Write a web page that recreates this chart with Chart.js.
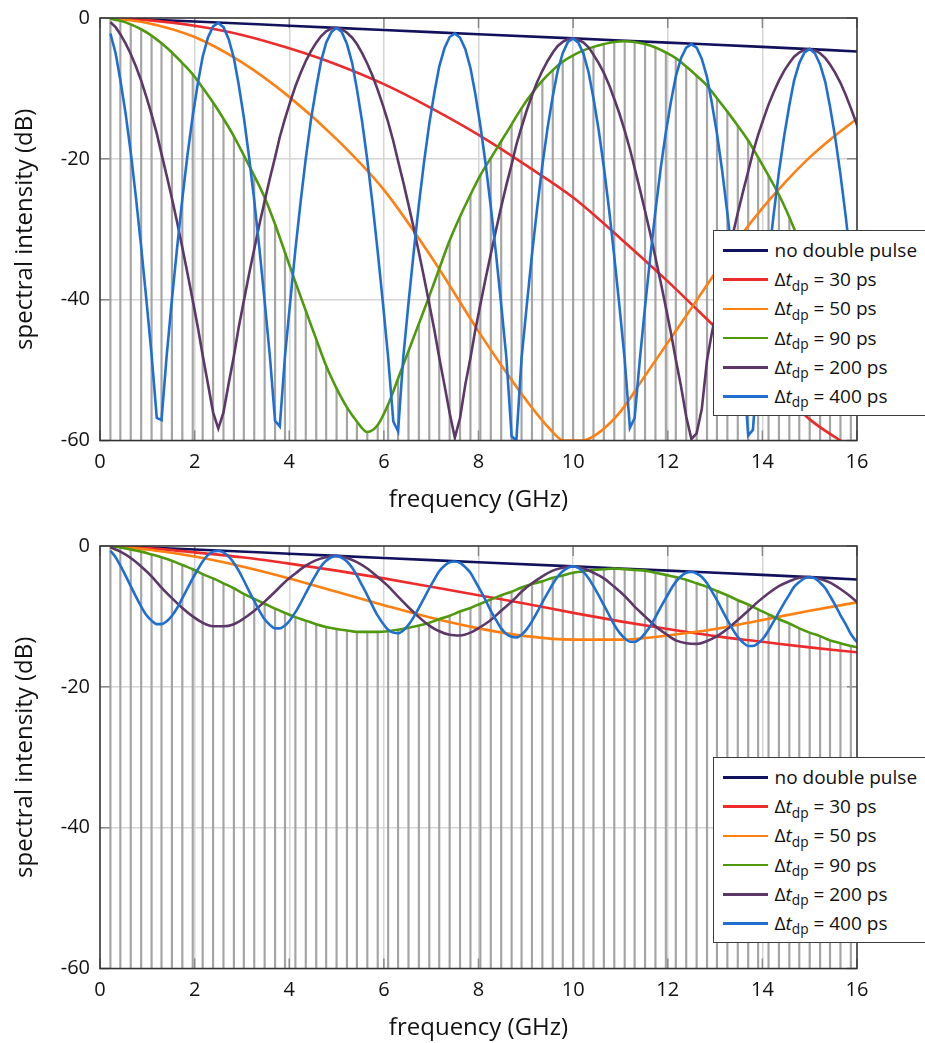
<!DOCTYPE html>
<html>
<head>
<meta charset="utf-8">
<title>Double pulse spectra</title>
<script src="https://cdn.jsdelivr.net/npm/chart.js@4.4.0/dist/chart.umd.min.js"></script>
<style>
  body { margin: 0; width: 925px; height: 1043px; overflow: hidden; background: #fff; font-family: 'Open Sans', sans-serif; }
  .panel { position: absolute; left: 0; width: 925px; height: 528px; }
  .legend { position: absolute; left: 713px; width: 240px; box-sizing: border-box; border: 1.5px solid #3c3c3c;
            background: #fff; padding: 5px 0 4px 0; font-size: 19px; color: #111; }
  .legend .row { height: 29.2px; display: flex; align-items: center; white-space: nowrap; line-height: 1; }
  .legend .swatch { display: inline-block; width: 45px; height: 2.6px; margin-left: 8.5px; margin-right: 7px; }
  .legend sub { font-size: 0.72em; position: relative; top: 0.32em; vertical-align: baseline; }
</style>
</head>
<body>
<div class="panel" style="top:-4.5px"><canvas id="topChart" width="925" height="528"></canvas></div>
<div class="panel" style="top:523.5px"><canvas id="bottomChart" width="925" height="528"></canvas></div>
<div class="legend" id="legendTop" style="top:230px"></div>
<div class="legend" id="legendBottom" style="top:757px"></div>

<script>
// sample frequencies of the spectra (GHz)
const freqFine = [
  0.22, 0.33, 0.43, 0.54, 0.65, 0.76, 0.87, 0.98, 1.09, 1.20, 1.30, 1.41, 1.52, 1.63, 1.74, 1.85, 1.96, 2.07, 2.17, 2.28, 2.39,
  2.50, 2.61, 2.72, 2.83, 2.93, 3.04, 3.15, 3.26, 3.37, 3.48, 3.59, 3.70, 3.80, 3.91, 4.02, 4.13, 4.24, 4.35, 4.46, 4.57, 4.67, 4.78, 4.89,
  5.00, 5.11, 5.22, 5.33, 5.43, 5.54, 5.65, 5.76, 5.87, 5.98, 6.09, 6.20, 6.30, 6.41, 6.52, 6.63, 6.74, 6.85, 6.96, 7.07, 7.17, 7.28, 7.39,
  7.50, 7.61, 7.72, 7.83, 7.93, 8.04, 8.15, 8.26, 8.37, 8.48, 8.59, 8.70, 8.80, 8.91, 9.02, 9.13, 9.24, 9.35, 9.46, 9.57, 9.67, 9.78, 9.89,
  10.00, 10.11, 10.22, 10.33, 10.43, 10.54, 10.65, 10.76, 10.87, 10.98, 11.09, 11.20, 11.30, 11.41, 11.52, 11.63, 11.74, 11.85, 11.96, 12.07, 12.17, 12.28, 12.39,
  12.50, 12.61, 12.72, 12.83, 12.93, 13.04, 13.15, 13.26, 13.37, 13.48, 13.59, 13.70, 13.80, 13.91, 14.02, 14.13, 14.24, 14.35, 14.46, 14.57, 14.67, 14.78, 14.89,
  15.00, 15.11, 15.22, 15.33, 15.43, 15.54, 15.65, 15.76, 15.87, 15.98, 16.09
];
// every second sample: used by the slower traces and by the stems
const freqCoarse = freqFine.filter((f, i) => i % 2 === 0);

// single pulse spectrum (same in both panels)
const navyFreq = [0.22, 2, 4, 6, 8, 10, 12, 14, 16];
const noDoublePulse = [0.0, -0.5, -1.1, -1.7, -2.3, -2.9, -3.5, -4.1, -4.75];

const smoothFreq = [0.22, 1, 2, 3, 4, 5, 6, 7, 8, 9, 10, 11, 12, 13, 14, 15, 16];

// ---- upper panel: equal pulse amplitudes ----
const redTop = [0.0, -0.3, -1.1, -2.4, -4.3, -6.6, -9.4, -12.8, -16.6, -20.9, -25.5, -31.3, -37.4, -43.9, -50.4, -57.0, -61.5];

const orangeTopFreq = [0.22, 1, 2, 3, 4, 5, 6, 7, 8, 8.5, 9, 9.5, 9.8, 10, 10.2, 10.5, 11, 11.5, 12, 12.5, 13, 13.5, 14, 14.5, 15, 15.5, 16];
const orangeTop = [0.0, -0.7, -2.7, -6.3, -11.2, -17.2, -24.4, -33.9, -44.5, -49.5, -54.2, -58.3, -60.0, -60.0, -60.0, -59.1,
  -55.9, -51.0, -46.1, -41.2, -36.2, -31.3, -27.0, -23.2, -19.8, -16.9, -14.3];

const greenTop = [
  -0.1, -0.4, -0.9, -1.6, -2.5, -3.6, -4.9, -6.4, -8.0, -9.9,
  -12.0, -14.3, -16.8, -19.5, -22.4, -25.5, -29.3, -33.3, -37.5, -41.6,
  -45.6, -49.4, -52.6, -55.3, -57.3, -58.8, -57.8, -54.9, -51.2, -47.3,
  -43.4, -39.5, -35.6, -31.6, -28.2, -25.1, -22.3, -19.9, -17.5, -15.1,
  -12.8, -10.7, -8.9, -7.4, -6.2, -5.3, -4.6, -4.1, -3.7, -3.4,
  -3.3, -3.4, -3.7, -4.2, -4.9, -5.7, -6.9, -8.2, -9.6, -11.4,
  -13.3, -15.3, -17.4, -19.8, -22.4, -25.1, -28.3, -31.7, -35.2, -38.8,
  -42.4, -46.0, -49.5, -53.0
];

const purpleTop = [
  -0.6, -1.3, -2.3, -3.6, -5.1, -6.9, -8.9, -11.2, -13.7, -16.4, -19.3, -22.4, -25.6, -29.0, -32.6, -36.3, -40.1, -44.0, -47.9, -51.9, -56.0,
  -58.3, -56.0, -51.9, -48.0, -44.0, -40.2, -36.4, -32.8, -29.3, -26.0, -22.8, -19.8, -16.9, -14.3, -11.9, -9.7, -7.8, -6.1, -4.7, -3.5, -2.6, -1.9, -1.5,
  -1.4, -1.6, -2.1, -2.8, -3.7, -5.0, -6.5, -8.2, -10.2, -12.4, -14.8, -17.5, -20.3, -23.3, -26.5, -29.8, -33.3, -36.9, -40.6, -44.4, -48.2, -52.1, -56.1,
  -59.6, -56.8, -52.1, -48.3, -44.4, -40.7, -37.0, -33.5, -30.1, -26.8, -23.7, -20.8, -18.0, -15.5, -13.1, -11.0, -9.1, -7.5, -6.1, -4.9, -4.0, -3.4, -3.0,
  -2.9, -3.1, -3.5, -4.2, -5.2, -6.4, -7.8, -9.5, -11.5, -13.6, -16.0, -18.6, -21.3, -24.3, -27.4, -30.6, -34.0, -37.5, -41.1, -44.8, -48.5, -52.3, -56.6,
  -59.8, -59.0, -55.5, -48.6, -44.8, -41.2, -37.6, -34.2, -30.9, -27.7, -24.7, -21.8, -19.1, -16.6, -14.4, -12.3, -10.5, -8.9, -7.5, -6.4, -5.5, -4.9, -4.5,
  -4.4, -4.6, -5.0, -5.7, -6.6, -7.8, -9.2, -10.9, -12.8, -14.8, -17.1
];

const blueTop = [
  -2.2, -5.0, -8.8, -13.5, -19.1, -25.5, -32.5, -40.0, -47.8, -56.8, -57.1, -47.9, -40.0, -32.6, -25.7, -19.4, -13.9, -9.2, -5.5, -2.8, -1.2,
  -0.7, -1.3, -3.0, -5.7, -9.4, -14.1, -19.7, -25.9, -32.8, -40.2, -48.0, -57.2, -58.0, -48.0, -40.3, -32.9, -26.1, -19.9, -14.4, -9.9, -6.2, -3.5, -2.0,
  -1.4, -2.0, -3.7, -6.4, -10.1, -14.7, -20.2, -26.4, -33.2, -40.5, -48.2, -57.3, -58.7, -48.2, -40.5, -33.3, -26.5, -20.4, -15.0, -10.5, -6.9, -4.3, -2.7,
  -2.2, -2.8, -4.4, -7.1, -10.7, -15.3, -20.7, -26.8, -33.5, -40.7, -48.3, -59.4, -60.0, -48.3, -40.8, -33.6, -27.0, -20.9, -15.6, -11.1, -7.6, -5.0, -3.4,
  -2.9, -3.5, -5.1, -7.8, -11.4, -15.9, -21.2, -27.2, -33.9, -41.0, -48.5, -58.2, -56.8, -48.5, -41.0, -34.0, -27.4, -21.4, -16.2, -11.8, -8.3, -5.7, -4.2,
  -3.7, -4.2, -5.8, -8.4, -12.0, -16.4, -21.7, -27.7, -34.2, -41.2, -48.6, -59.3, -58.5, -48.6, -41.3, -34.3, -27.8, -21.9, -16.8, -12.4, -8.9, -6.4, -4.9,
  -4.4, -5.0, -6.6, -9.1, -12.6, -17.0, -22.2, -28.1, -34.6, -41.5, -48.8
];

// ---- lower panel: unequal pulse amplitudes ----
const redBottom = [0.0, -0.3, -0.9, -1.6, -2.5, -3.5, -4.6, -5.8, -7.0, -8.2, -9.5, -10.7, -11.8, -12.8, -13.6, -14.4, -15.1];
const orangeBottom = [0.0, -0.5, -1.5, -2.9, -4.6, -6.5, -8.4, -10.2, -11.7, -12.8, -13.3, -13.3, -12.7, -11.8, -10.5, -9.2, -8.0];

const greenBottom = [
  0.0, -0.2, -0.5, -0.8, -1.2, -1.6, -2.1, -2.7, -3.3, -4.0,
  -4.6, -5.3, -6.0, -6.8, -7.5, -8.2, -8.9, -9.5, -10.1, -10.6,
  -11.1, -11.5, -11.8, -12.0, -12.2, -12.2, -12.2, -12.1, -11.9, -11.6,
  -11.3, -10.9, -10.4, -9.9, -9.3, -8.8, -8.2, -7.6, -7.0, -6.5,
  -5.9, -5.4, -5.0, -4.5, -4.2, -3.8, -3.6, -3.4, -3.3, -3.2,
  -3.3, -3.4, -3.5, -3.8, -4.1, -4.4, -4.8, -5.3, -5.8, -6.4,
  -7.0, -7.7, -8.3, -9.0, -9.7, -10.4, -11.0, -11.7, -12.3, -12.8,
  -13.4, -13.8, -14.2, -14.5
];

const purpleBottom = [
  -0.2, -0.8, -1.7, -2.9, -4.3, -5.9, -7.4, -8.8, -10.0, -10.9,
  -11.4, -11.4, -11.1, -10.3, -9.2, -7.9, -6.5, -5.1, -3.9, -2.8,
  -2.0, -1.6, -1.4, -1.7, -2.3, -3.2, -4.4, -5.7, -7.2, -8.7,
  -10.1, -11.3, -12.1, -12.6, -12.7, -12.3, -11.5, -10.5, -9.2, -7.9,
  -6.5, -5.3, -4.3, -3.5, -3.1, -2.9, -3.2, -3.8, -4.6, -5.8,
  -7.1, -8.6, -10.0, -11.4, -12.5, -13.4, -13.8, -13.9, -13.5, -12.8,
  -11.8, -10.5, -9.2, -7.9, -6.7, -5.7, -5.0, -4.5, -4.4, -4.7,
  -5.2, -6.1, -7.2, -8.5
];

const blueBottom = [
  -0.7, -1.6, -2.8, -4.2, -5.7, -7.2, -8.6, -9.8, -10.6, -11.1, -11.1, -10.7, -9.9, -8.8, -7.4, -6.0, -4.6, -3.3, -2.2, -1.3, -0.8,
  -0.7, -0.9, -1.5, -2.4, -3.5, -4.9, -6.4, -7.8, -9.2, -10.4, -11.2, -11.7, -11.7, -11.3, -10.5, -9.4, -8.1, -6.7, -5.3, -4.0, -2.9, -2.1, -1.6,
  -1.4, -1.7, -2.2, -3.1, -4.2, -5.6, -7.0, -8.5, -9.9, -11.0, -11.9, -12.3, -12.4, -12.0, -11.2, -10.1, -8.8, -7.4, -6.0, -4.7, -3.6, -2.8, -2.3,
  -2.2, -2.4, -3.0, -3.8, -5.0, -6.3, -7.7, -9.2, -10.5, -11.7, -12.5, -12.9, -13.0, -12.6, -11.8, -10.7, -9.4, -8.0, -6.7, -5.4, -4.4, -3.6, -3.1,
  -2.9, -3.1, -3.7, -4.6, -5.7, -7.0, -8.4, -9.8, -11.2, -12.3, -13.1, -13.6, -13.6, -13.2, -12.4, -11.4, -10.1, -8.7, -7.4, -6.1, -5.1, -4.3, -3.8,
  -3.7, -3.9, -4.4, -5.3, -6.4, -7.7, -9.1, -10.5, -11.8, -12.9, -13.7, -14.2, -14.2, -13.8, -13.1, -12.0, -10.7, -9.4, -8.1, -6.9, -5.8, -5.1, -4.6,
  -4.4, -4.6, -5.2, -6.0, -7.1, -8.4, -9.8, -11.1, -12.5, -13.5, -14.4
];

const traceColors = ['#12115c', '#ee2b2b', '#ff7f11', '#4f9a0c', '#5c3768', '#1f6fd2'];
const delays = [null, 30, 50, 90, 200, 400];

Chart.defaults.font.family = "'Open Sans', sans-serif";
Chart.defaults.color = '#111';

// inner tick marks and the plot frame
const frameAndTicks = {
  id: 'frameAndTicks',
  beforeDatasetsDraw(chart) {
    const {ctx, chartArea: a, scales: {x, y}} = chart;
    ctx.save();
    ctx.strokeStyle = '#8a8a8a';
    ctx.lineWidth = 1.5;
    ctx.beginPath();
    x.ticks.forEach(t => {
      const px = x.getPixelForValue(t.value);
      ctx.moveTo(px, a.top); ctx.lineTo(px, a.top + 10);
      ctx.moveTo(px, a.bottom); ctx.lineTo(px, a.bottom - 10);
    });
    y.ticks.forEach(t => {
      const py = y.getPixelForValue(t.value);
      ctx.moveTo(a.left, py); ctx.lineTo(a.left + 10, py);
      ctx.moveTo(a.right, py); ctx.lineTo(a.right - 10, py);
    });
    ctx.stroke();
    ctx.restore();
  },
  afterDatasetsDraw(chart) {
    const {ctx, chartArea: a} = chart;
    ctx.save();
    ctx.strokeStyle = '#333';
    ctx.lineWidth = 1.5;
    ctx.strokeRect(a.left, a.top, a.right - a.left, a.bottom - a.top);
    ctx.restore();
  }
};

function lineSet(label, color, xs, ys, order, smooth) {
  return {
    type: 'line',
    label: label,
    order: order,
    data: xs.map((f, i) => ({x: f, y: ys[i]})),
    borderColor: color,
    borderWidth: 2.6,
    pointRadius: 0,
    fill: false,
    tension: smooth ? 0.4 : 0,
    cubicInterpolationMode: smooth ? 'monotone' : 'default'
  };
}

function drawPanel(canvasId, t) {
  const stems = freqCoarse
    .map((f, i) => ({x: f, y: [-60, t.green[i]]}))
    .filter(p => p.x <= 16);

  new Chart(document.getElementById(canvasId), {
    type: 'line',
    data: {
      datasets: [
        {
          type: 'bar',
          label: 'stems',
          order: 10,
          data: stems,
          backgroundColor: '#a4a4a4',
          borderWidth: 0,
          barThickness: 1.5,
          grouped: false
        },
        lineSet('no double pulse', traceColors[0], navyFreq, noDoublePulse, 6, true),
        lineSet('30 ps', traceColors[1], smoothFreq, t.red, 5, true),
        lineSet('50 ps', traceColors[2], t.orangeFreq, t.orange, 4, true),
        lineSet('90 ps', traceColors[3], freqCoarse, t.green, 3, true),
        lineSet('200 ps', traceColors[4], t.purpleFreq, t.purple, 2, t.purpleSmooth),
        lineSet('400 ps', traceColors[5], freqFine, t.blue, 1, t.blueSmooth)
      ]
    },
    options: {
      responsive: false,
      animation: false,
      devicePixelRatio: 1,
      layout: { padding: { top: 12.5, right: 68, left: 0, bottom: 0 } },
      plugins: { legend: { display: false }, tooltip: { enabled: false } },
      scales: {
        x: {
          type: 'linear',
          min: 0,
          max: 16,
          offset: false,
          ticks: { stepSize: 2, padding: 10, font: { size: 20 }, maxRotation: 0, autoSkip: false },
          grid: { color: '#d5d5d5', lineWidth: 1.5, drawTicks: false, offset: false },
          border: { display: false },
          title: { display: true, text: 'frequency (GHz)', font: { size: 24 }, padding: { top: 4, bottom: 9.5 } },
          afterFit(scale) { scale.height = 83.5; }
        },
        y: {
          min: -60,
          max: 0,
          ticks: { stepSize: 20, padding: 10, font: { size: 20 } },
          grid: { color: '#d5d5d5', lineWidth: 1.5, drawTicks: false },
          border: { display: false },
          title: { display: true, text: 'spectral intensity (dB)', font: { size: 24 }, padding: { top: 10.6, bottom: 0 } },
          afterFit(scale) { scale.width = 100; }
        }
      }
    },
    plugins: [frameAndTicks]
  });
}

function buildLegend(id) {
  const box = document.getElementById(id);
  delays.forEach((d, i) => {
    const row = document.createElement('div');
    row.className = 'row';
    const text = d === null ? 'no double pulse' : `Δ<i>t</i><sub>dp</sub> = ${d} ps`;
    row.innerHTML = `<span class="swatch" style="background:${traceColors[i]}"></span><span>${text}</span>`;
    box.appendChild(row);
  });
}

drawPanel('topChart', {
  red: redTop,
  orangeFreq: orangeTopFreq, orange: orangeTop,
  green: greenTop,
  purpleFreq: freqFine, purple: purpleTop, purpleSmooth: false,
  blue: blueTop, blueSmooth: false
});

drawPanel('bottomChart', {
  red: redBottom,
  orangeFreq: smoothFreq, orange: orangeBottom,
  green: greenBottom,
  purpleFreq: freqCoarse, purple: purpleBottom, purpleSmooth: true,
  blue: blueBottom, blueSmooth: true
});

buildLegend('legendTop');
buildLegend('legendBottom');
</script>
</body>
</html>
